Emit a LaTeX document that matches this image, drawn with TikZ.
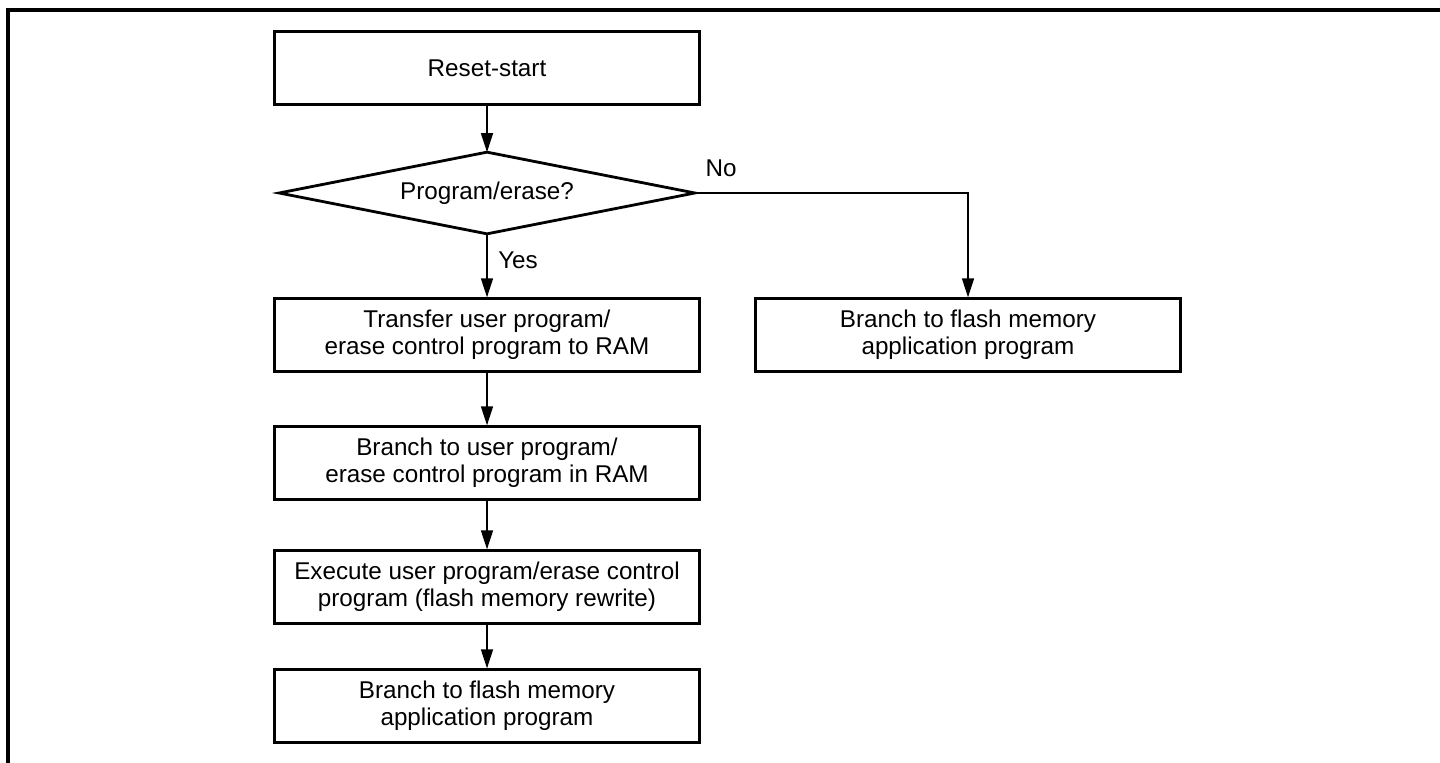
\documentclass[tikz,border=0pt]{standalone}
\usepackage{fontspec}
\setmainfont{Liberation Sans}
\usepackage{tikz}
\usetikzlibrary{arrows.meta,positioning,shapes.geometric}

\tikzset{
  stepbox/.style={draw, line width=1.6pt, minimum width=8.5cm, minimum height=1.45cm,
    align=center, inner sep=0pt, font=\fontsize{13.8}{15.4}\selectfont},
  decision/.style={minimum width=8.3cm, minimum height=1.62cm,
    inner sep=0pt, font=\fontsize{13.8}{15.4}\selectfont},
  flow/.style={-{Triangle[length=0.38cm,width=0.24cm]}, line width=0.8pt},
  lbl/.style={font=\fontsize{13.8}{15.4}\selectfont, inner sep=0pt}
}

\begin{document}
\begin{tikzpicture}[x=0.02cm,y=0.02cm]
    \useasboundingbox (0,0) rectangle (1440,-763);
    % frame
    \draw[line width=1.8pt] (1440,-10) -- (8,-10) -- (8,-763);

    \node[stepbox] (reset) at (487,-68) {Reset-start};
    \node[decision] (decide) at (487,-193) {Program/erase?};
    \draw[line width=1.6pt, line join=miter]
      (decide.west) -- (decide.north) -- (decide.east) -- (decide.south) -- cycle;
    \node[stepbox] (transfer) at (487,-335) {Transfer user program/\\erase control program to RAM};
    \node[stepbox] (toram) at (487,-463) {Branch to user program/\\erase control program in RAM};
    \node[stepbox] (execute) at (487,-587) {Execute user program/erase control\\program (flash memory rewrite)};
    \node[stepbox] (toapp) at (487,-706) {Branch to flash memory\\application program};
    \node[stepbox] (noapp) at (968,-335) {Branch to flash memory\\application program};

    \draw[flow] (reset) -- (decide.north);
    \draw[flow] (decide.south) -- node[lbl, right=6pt, pos=0.42] {Yes} (transfer);
    \draw[flow] (decide.east) -| (noapp);
    \node[lbl, anchor=south west] (no) at ([xshift=6pt,yshift=9pt]decide.east) {No};
    \draw[flow] (transfer) -- (toram);
    \draw[flow] (toram) -- (execute);
    \draw[flow] (execute) -- (toapp);
\end{tikzpicture}
\end{document}
